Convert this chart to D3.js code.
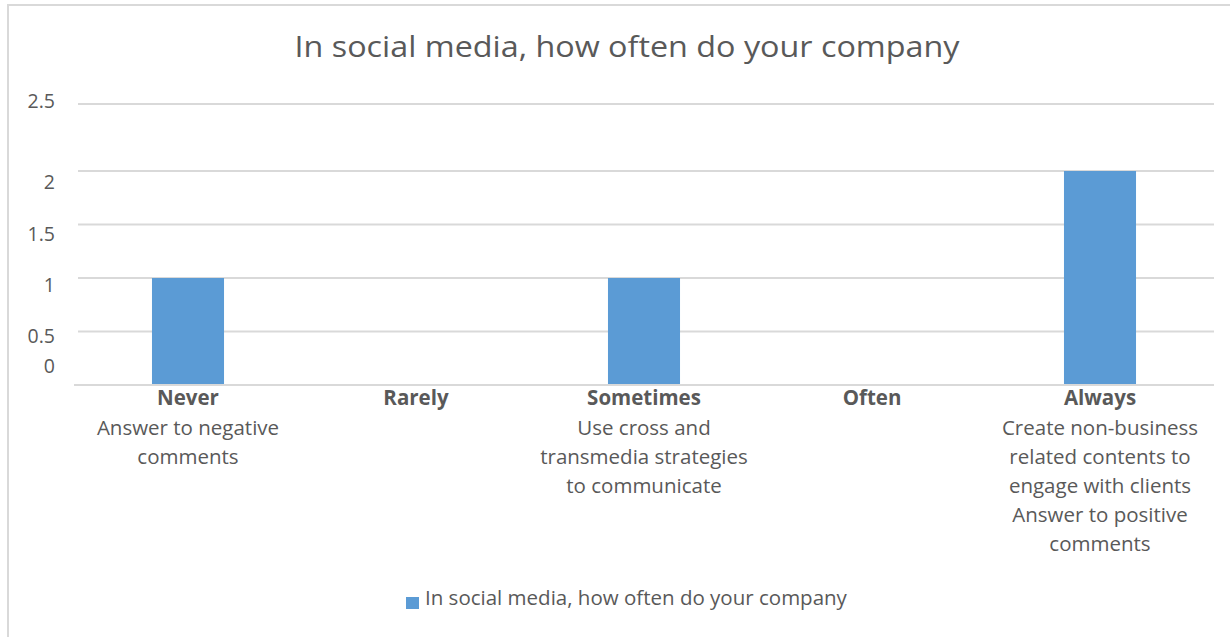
<!DOCTYPE html>
<html>
<head>
<meta charset="utf-8">
<script src="https://cdn.jsdelivr.net/npm/d3@7"></script>
<style>
  html, body { margin: 0; padding: 0; background: #fff; }
  svg { display: block; }
  text { font-family: "Open Sans", Lato, sans-serif; fill: #595959; }
</style>
</head>
<body>
<svg id="chart" width="1230" height="637"></svg>
<script>
// Survey answers: how often the company does each social-media action
const title = "In social media, how often do your company";
const seriesName = "In social media, how often do your company";
const categories = ["Never", "Rarely", "Sometimes", "Often", "Always"];
const values = [1, 0, 1, 0, 2];
const actions = [
  ["Answer to negative", "comments"],
  [],
  ["Use cross and", "transmedia strategies", "to communicate"],
  [],
  ["Create non-business", "related contents to", "engage with clients", "Answer to positive", "comments"]
];
const yTicks = [0, 0.5, 1, 1.5, 2, 2.5];
const yTickLabels = ["0", "0.5", "1", "1.5", "2", "2.5"];

const svg = d3.select("#chart");
const color = "#5b9bd5";
const gridColor = "#d9d9d9";

// chart frame (top and left edges)
svg.append("path")
  .attr("d", "M8,1240 L8,5 L1240,5")
  .attr("fill", "none")
  .attr("stroke", gridColor)
  .attr("stroke-width", 2);

// title
svg.append("text")
  .attr("x", 627).attr("y", 57)
  .attr("text-anchor", "middle")
  .attr("font-size", 29)
  .attr("textLength", 665)
  .attr("lengthAdjust", "spacingAndGlyphs")
  .text(title);

// scales
const x = d3.scaleBand().domain(categories).range([74, 1214]).padding(0);
const y = d3.scaleLinear().domain([0, 2, 2.5]).range([385, 171, 104]);
// baseline positions of the value labels beside the gridlines
const yLabel = d3.scaleLinear().domain(yTicks).range([373, 343, 292, 241, 189, 108]);

// gridlines
svg.append("g").selectAll("line")
  .data(yTicks.filter(t => t > 0))
  .join("line")
  .attr("x1", 78).attr("x2", 1214)
  .attr("y1", d => y(d)).attr("y2", d => y(d))
  .attr("stroke", gridColor).attr("stroke-width", 2);

// value labels
svg.append("g").selectAll("text")
  .data(yTicks)
  .join("text")
  .attr("x", 55)
  .attr("y", d => yLabel(d))
  .attr("text-anchor", "end")
  .attr("font-size", 19.5)
  .text((d, i) => yTickLabels[i]);

// bars
const barW = x.bandwidth() * 0.316;
svg.append("g").selectAll("rect")
  .data(categories.map((c, i) => ({ c, v: values[i] })).filter(d => d.v > 0))
  .join("rect")
  .attr("x", d => x(d.c) + x.bandwidth() / 2 - barW / 2)
  .attr("width", barW)
  .attr("y", d => y(d.v))
  .attr("height", d => y(0) - y(d.v))
  .attr("fill", color);

// category axis line
svg.append("line")
  .attr("x1", 74).attr("x2", 1214)
  .attr("y1", y(0)).attr("y2", y(0))
  .attr("stroke", gridColor).attr("stroke-width", 2);

// category labels with the actions listed under each
const cat = svg.append("g").selectAll("text")
  .data(categories)
  .join("text")
  .attr("text-anchor", "middle")
  .attr("font-size", 20.5);
cat.each(function (c, i) {
  const t = d3.select(this);
  const cx = x(c) + x.bandwidth() / 2;
  t.append("tspan").attr("x", cx).attr("y", 405)
    .attr("font-weight", "bold").text(c);
  actions[i].forEach((line, j) => {
    t.append("tspan").attr("x", cx).attr("y", 435 + j * 29).text(line);
  });
});

// legend
const legend = svg.append("g");
legend.append("rect")
  .attr("x", 406).attr("y", 597).attr("width", 13).attr("height", 12)
  .attr("fill", color);
legend.append("text")
  .attr("x", 425).attr("y", 605)
  .attr("font-size", 20.5)
  .text(seriesName);
</script>
</body>
</html>
